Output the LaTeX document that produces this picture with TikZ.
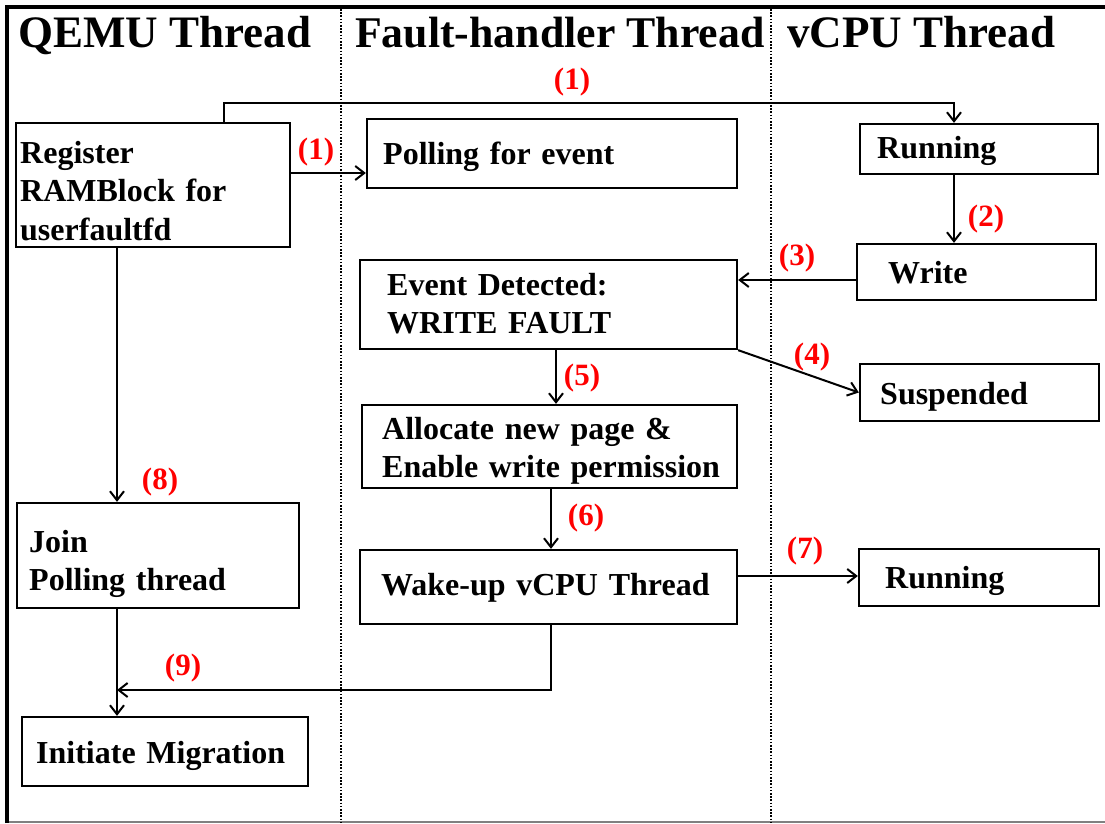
\documentclass[tikz,border=0pt]{standalone}
\usepackage{fontspec}
\setmainfont{Liberation Serif}
\usetikzlibrary{arrows.meta}
\tikzset{
  box/.style={draw, line width=2.3pt, inner sep=0pt, anchor=center},
  txt/.style={anchor=base west, inner sep=0pt, align=left, text width=360pt,
    font=\bfseries\fontsize{32}{38.5}\selectfont},
  arr/.style={line width=2pt, -{Straight Barb[length=9pt,width=14pt,line width=2pt]}},
  lbl/.style={text=red, font=\bfseries\fontsize{31}{35}\selectfont, inner sep=0pt},
  ttl/.style={font=\bfseries\fontsize{45}{50}\selectfont, anchor=base west, inner sep=0pt},
  divider/.style={line width=1.6pt, dash pattern=on 1.6pt off 1.6pt}
}
\begin{document}
\begin{tikzpicture}[x=1pt,y=-1pt]
\useasboundingbox (0,0) rectangle (1105,823);
% frame
\draw[gray, line width=1.5pt] (7,822) -- (1105,822);
\draw[line width=4pt] (7,823) -- (7,7) -- (1105,7);
% dividers
\draw[divider] (341,9) -- (341,823);
\draw[divider] (771,9) -- (771,823);
% titles
\node[ttl] (t1) at (18,47) {QEMU Thread};
\node[ttl, font=\bfseries\fontsize{43.8}{50}\selectfont] (t2) at (355,47) {Fault-handler Thread};
\node[ttl] (t3) at (787,47) {vCPU Thread};
% boxes
\node[box, minimum width=274pt, minimum height=124pt] (reg) at (153,185) {};
\node[box, minimum width=370pt, minimum height=69pt] (poll) at (552,153.5) {};
\node[box, minimum width=238pt, minimum height=50pt] (run1) at (979,149) {};
\node[box, minimum width=239pt, minimum height=56pt] (write) at (976.5,272) {};
\node[box, minimum width=377pt, minimum height=89pt] (event) at (548.5,304.5) {};
\node[box, minimum width=239pt, minimum height=57pt] (susp) at (979.5,392.5) {};
\node[box, minimum width=375pt, minimum height=83pt] (alloc) at (549.5,446.5) {};
\node[box, minimum width=377pt, minimum height=74pt] (wake) at (548.5,587) {};
\node[box, minimum width=240pt, minimum height=57pt] (run2) at (979,577.5) {};
\node[box, minimum width=282pt, minimum height=105pt] (join) at (158,555.5) {};
\node[box, minimum width=286pt, minimum height=69pt] (init) at (165,751.5) {};
% box texts
\node[txt] (reg-t) at (20,163) {Register\\RAMBlock for\\userfaultfd};
\node[txt] (poll-t) at (383,164) {Polling for event};
\node[txt] (run1-t) at (877,158) {Running};
\node[txt] (write-t) at (888,283) {Write};
\node[txt] (event-t) at (387,295) {Event Detected:\\WRITE FAULT};
\node[txt] (susp-t) at (880,404) {Suspended};
\node[txt] (alloc-t) at (382,439) {Allocate new page \&\\Enable write permission};
\node[txt] (wake-t) at (381,595) {Wake-up vCPU Thread};
\node[txt] (run2-t) at (885,588) {Running};
\node[txt] (join-t) at (29,552) {Join\\Polling thread};
\node[txt] (init-t) at (36,763) {Initiate Migration};
% connectors
\draw[arr] ([xshift=71pt]reg.north) -- ++(0,-19) -| ([xshift=-25pt]run1.north);
\draw[arr] ([yshift=12pt]reg.east) -- ([yshift=12pt]reg.east -| poll.west);
\draw[arr] ([xshift=-25pt]run1.south) -- ([xshift=-25pt]run1.south |- write.north);
\draw[arr] ([yshift=-8pt]write.west) -- ([yshift=-8pt]write.west -| event.east);
\draw[arr] (event.south east) -- (susp.west);
\draw[arr] ([xshift=7.5pt]event.south) -- ([xshift=7.5pt]event.south |- alloc.north);
\draw[arr] ([xshift=1.5pt]alloc.south) -- ([xshift=1.5pt]alloc.south |- wake.north);
\draw[arr] ([yshift=11pt]wake.east) -- ([yshift=11pt]wake.east -| run2.west);
\draw[arr] ([xshift=-36pt]reg.south) -- ([xshift=-36pt]reg.south |- join.north);
\draw[arr] ([xshift=-41pt]join.south) -- ([xshift=-41pt]join.south |- init.north);
\coordinate (j9) at (117,690);
\draw[arr] ([xshift=2.5pt]wake.south) |- (j9);
% labels
\node[lbl] (l1a) at (572,82) {(1)};
\node[lbl] (l1b) at (316,152) {(1)};
\node[lbl] (l2) at (986,219) {(2)};
\node[lbl] (l3) at (797,258) {(3)};
\node[lbl] (l4) at (812,357) {(4)};
\node[lbl] (l5) at (582,378) {(5)};
\node[lbl] (l6) at (586,518) {(6)};
\node[lbl] (l7) at (805,551) {(7)};
\node[lbl] (l8) at (160,482) {(8)};
\node[lbl] (l9) at (183,668) {(9)};
\end{tikzpicture}
\end{document}
